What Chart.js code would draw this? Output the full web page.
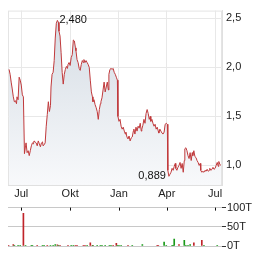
<!DOCTYPE html>
<html><head><meta charset="utf-8">
<script src="https://cdn.jsdelivr.net/npm/chart.js@4/dist/chart.umd.min.js"></script>
<style>
html,body{margin:0;padding:0;background:#fff;width:264px;height:255px;overflow:hidden}
#c1{position:absolute;left:0;top:0}
#c2{position:absolute;left:0;top:200px}
</style></head><body>
<canvas id="c1" width="264" height="200"></canvas>
<canvas id="c2" width="264" height="55"></canvas>
<script>
// days relative to 1 Jul (first year)
const priceDays = [-23,-21,-19,-17,-15,-13,-11,-9,-8,-6,-4,-2,0,2,4,6,8,9,11,13,15,17,19,21,23,24,26,28,30,32,34,36,38,40,41,43,45,47,49,51,53,55,56,58,60,62,64,66,68,70,71,73,75,77,79,81,83,85,87,88,90,92,94,96,98,100,102,103,105,107,109,111,113,115,117,118,120,122,124,126,128,130,132,134,135,137,139,141,143,145,147,149,150,152,154,156,158,160,162,164,165,167,169,171,173,175,177,179,181,182,184,186,188,190,192,194,196,197,199,201,203,205,207,209,211,212,214,216,218,220,222,224,226,227,229,231,233,235,237,239,241,243,244,246,248,250,252,254,256,258,259,261,263,265,267,269,271,273,275,276,278,280,282,284,286,288,290,291,293,295,297,299,301,303,305,307,308,310,312,314,316,318,320,322,323,325,327,329,331,333,335,337,338,340,342,344,346,348,350,352,354,355,357,359,361,363,365,367,369,371,372,374,376];
const prices = [1.98,1.93,1.85,1.78,1.70,1.65,1.66,1.63,1.70,1.67,1.90,1.87,1.82,1.72,1.70,1.12,1.20,1.23,1.13,1.15,1.10,1.15,1.20,1.23,1.22,1.25,1.24,1.23,1.20,1.25,1.22,1.19,1.23,1.24,1.20,1.21,1.23,1.40,1.52,1.65,1.55,1.61,1.80,1.93,1.95,2.07,2.30,2.45,2.48,2.46,2.37,2.32,2.15,1.95,1.83,1.93,1.98,2.01,1.99,2.03,2.05,2.02,2.10,2.13,2.28,2.27,2.20,2.17,2.08,2.05,1.99,1.97,2.03,2.07,2.05,2.08,2.05,2.07,2.05,2.03,2.00,1.87,1.75,1.70,1.65,1.67,1.62,1.59,1.55,1.47,1.57,1.63,1.65,1.69,1.77,1.85,1.75,1.80,1.85,1.77,1.93,1.98,1.99,1.98,1.99,1.95,1.93,1.90,1.87,1.50,1.45,1.47,1.40,1.37,1.39,1.35,1.32,1.34,1.29,1.27,1.30,1.25,1.28,1.29,1.35,1.37,1.32,1.39,1.35,1.40,1.38,1.43,1.35,1.37,1.41,1.47,1.43,1.53,1.57,1.53,1.47,1.50,1.45,1.47,1.43,1.40,1.42,1.37,1.39,1.35,1.33,1.37,1.35,1.33,1.32,1.34,1.42,1.43,1.42,0.95,0.889,0.91,0.93,0.97,0.95,0.99,1.02,0.97,0.95,0.98,1.00,1.03,0.97,1.02,0.93,1.05,1.17,1.18,1.15,1.10,1.07,1.13,1.05,1.13,1.10,1.15,1.09,1.08,1.05,1.03,1.00,1.02,0.95,0.93,0.94,0.93,0.95,0.94,0.96,0.94,0.95,0.97,0.95,0.96,0.98,0.96,0.97,1.00,1.03,0.99,1.04,1.01,1.00];
const volDays = [-24,-15,-13,-6,-2,4,8,19,21,30,40,43,49,55,60,64,68,70,73,88,94,98,102,105,117,120,124,130,134,135,143,149,152,158,166,169,173,179,181,184,188,201,209,228,256,258,269,273,284,286,288,297,307,310,314,318,325,340,344,369];
const volumes = [1,4,2,1.5,1.5,85,1.5,1,1.5,1,1.5,1.5,1,1,2,4,3,1.5,1,1,1.5,1,1,1,1,1,2,8,2,1,1.5,1,1.5,1,1.5,1.5,1,7,1.5,1.5,1.5,1,1,4,1,1,10,1.5,2,2,18,4,15,2,2,4,8,15,1.5,1.5];
const volDir = ['d','d','u','u','u','d','u','u','u','d','u','u','d','u','u','u','d','u','d','d','u','u','d','d','d','d','u','d','d','u','u','u','u','u','u','u','d','d','u','u','u','d','u','u','d','d','u','u','u','u','u','d','u','u','u','u','d','d','u','u'];
const monthTicks = [0, 92, 184, 274, 365];
const monthLabels = ['Jul', 'Okt', 'Jan', 'Apr', 'Jul'];
const priceTicks = [1.0, 1.5, 2.0, 2.5];
const volTicks = [0, 50, 100];
const volTickLabels = ['0T', '50T', '100T'];

const FONT = {family: '"Liberation Sans", Arial, sans-serif', size: 11};
const X_MIN = -25, X_MAX = 378;

const fmt = v => v.toFixed(3).replace('.', ',');

const annot = {
  id: 'annot',
  afterDatasetsDraw(chart) {
    const {ctx, scales: {x, y}} = chart;
    let iMax = 0, iMin = 0;
    prices.forEach((p, i) => { if (p > prices[iMax]) iMax = i; if (p < prices[iMin]) iMin = i; });
    ctx.save();
    ctx.font = '11px "Liberation Sans", Arial, sans-serif';
    ctx.fillStyle = '#111';
    ctx.textBaseline = 'middle';
    ctx.textAlign = 'left';
    ctx.fillText(fmt(prices[iMax]), x.getPixelForValue(priceDays[iMax]) + 2, y.getPixelForValue(prices[iMax]));
    ctx.textAlign = 'right';
    ctx.fillText(fmt(prices[iMin]), x.getPixelForValue(priceDays[iMin]) - 3, y.getPixelForValue(prices[iMin]));
    ctx.restore();
  }
};

new Chart(document.getElementById('c1'), {
  type: 'line',
  data: {
    datasets: [{
      data: priceDays.map((d, i) => ({x: d, y: prices[i]})),
      borderColor: '#c0393b',
      borderWidth: 1,
      pointRadius: 0,
      tension: 0,
      fill: 'start',
      backgroundColor: (c) => {
        const a = c.chart.chartArea;
        if (!a) return '#dde3e9';
        const g = c.chart.ctx.createLinearGradient(0, a.top, 0, a.bottom);
        g.addColorStop(0, '#d3dbe3');
        g.addColorStop(1, '#f8f9fb');
        return g;
      }
    }]
  },
  options: {
    responsive: false, animation: false,
    layout: {padding: {left: 8, top: 7, right: 0, bottom: 0}},
    plugins: {legend: {display: false}, tooltip: {enabled: false}},
    scales: {
      x: {
        type: 'linear', min: X_MIN, max: X_MAX,
        afterBuildTicks: s => { s.ticks = monthTicks.map(v => ({value: v})); },
        afterFit: s => { s.height = 15; },
        ticks: {
          autoSkip: false, maxRotation: 0, padding: 2, color: '#222', font: FONT,
          callback: (v) => monthLabels[monthTicks.indexOf(v)]
        },
        grid: {color: '#e8e8e8', drawTicks: false},
        border: {color: '#e0e0e0'}
      },
      y: {
        position: 'right', min: 0.8, max: 2.58,
        afterBuildTicks: s => { s.ticks = priceTicks.map(v => ({value: v})); },
        afterFit: s => { s.width = 42; },
        ticks: {padding: 4, color: '#222', font: FONT, callback: v => v.toFixed(1).replace('.', ',')},
        grid: {color: '#e8e8e8', drawTicks: false},
        border: {color: '#e0e0e0'}
      }
    }
  },
  plugins: [annot, {
    id: 'frame',
    beforeDraw(chart) {
      const {ctx, chartArea: a} = chart;
      ctx.save();
      ctx.strokeStyle = '#e4e4e4';
      ctx.lineWidth = 1;
      ctx.strokeRect(a.left + 0.5, a.top + 0.5, a.right - a.left - 1, a.bottom - a.top - 1);
      ctx.restore();
    }
  }]
});

const monthMarks = {
  id: 'monthMarks',
  afterDraw(chart) {
    const {ctx, scales: {x}, chartArea: a} = chart;
    ctx.save();
    ctx.fillStyle = '#111';
    monthTicks.forEach(v => {
      const px = Math.round(x.getPixelForValue(v));
      ctx.fillRect(px, a.top, 1, 3);
    });
    ctx.restore();
  }
};

new Chart(document.getElementById('c2'), {
  type: 'bar',
  data: {
    datasets: [{
      data: volDays.map((d, i) => ({x: d, y: volumes[i]})),
      backgroundColor: volDir.map(d => d === 'u' ? '#1a9a1a' : '#c0242a'),
      barThickness: 1,
      borderWidth: 0,
      grouped: false
    }]
  },
  options: {
    responsive: false, animation: false,
    layout: {padding: {left: 8, top: 6, right: 0, bottom: 9}},
    plugins: {legend: {display: false}, tooltip: {enabled: false}},
    scales: {
      x: {
        type: 'linear', min: X_MIN, max: X_MAX, offset: false,
        display: false
      },
      y: {
        position: 'right', min: 0, max: 100,
        afterBuildTicks: s => { s.ticks = volTicks.map(v => ({value: v})); },
        afterFit: s => { s.width = 42; },
        ticks: {padding: 1, color: '#222', font: FONT, callback: v => volTickLabels[volTicks.indexOf(v)]},
        grid: {color: '#c8c8c8', tickColor: '#333', tickLength: 4},
        border: {display: false}
      }
    }
  },
  plugins: [monthMarks]
});
</script>
</body></html>
